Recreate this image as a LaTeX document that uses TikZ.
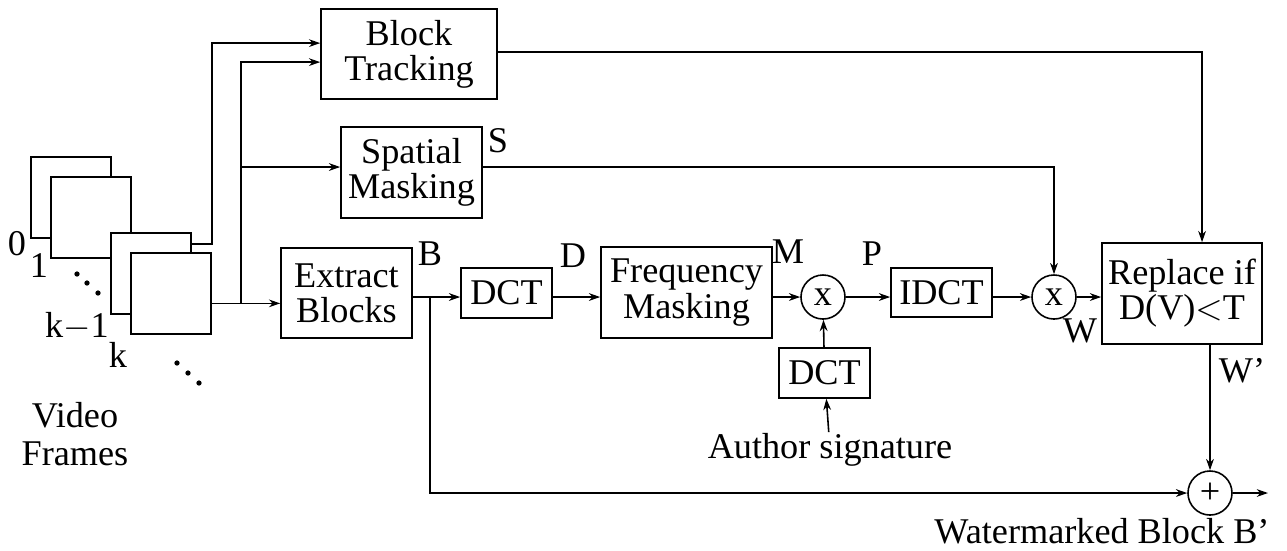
\documentclass[tikz,border=0pt]{standalone}
\usepackage{fontspec}
\setmainfont{Liberation Serif}
\usepackage{tikz}
\usetikzlibrary{arrows.meta}

\begin{document}
\begin{tikzpicture}[
        x=0.01cm, y=-0.01cm,
        >={Stealth[length=3.2pt,width=2.2pt]},
        line width=0.45pt,
        every node/.style={font=\fontsize{10.3}{10}\selectfont},
        blk/.style={draw, align=center, inner sep=0pt},
        frm/.style={draw, fill=white, minimum width=0.80cm, minimum height=0.81cm, inner sep=0pt},
        mult/.style={draw, circle, minimum size=0.44cm, inner sep=0pt},
        lab/.style={anchor=base, inner sep=0pt}
    ]

    \useasboundingbox (0,0) rectangle (1287,550);

    \node[frm] (f0) at (71,197.5) {};
    \node[frm] (f1) at (91,217.5) {};
    \node[frm] (fk1) at (151,273.5) {};
    \node[frm] (fk) at (171,293.5) {};

    \node[lab] (l0) at (17,255) {0};
    \node[lab] (l1) at (39,277) {1};
    \node[lab] (lk1) at (77,337) {k$-$1};
    \node[lab] (lk) at (118,367) {k};
    \node[lab] (vid) at (75,427) {Video};
    \node[lab] (frames) at (75,465) {Frames};

    \fill (77,274) circle[radius=0.75pt] (87,283) circle[radius=0.75pt] (98,293) circle[radius=0.75pt];
    \fill (177,363) circle[radius=0.75pt] (188,373) circle[radius=0.75pt] (199,383) circle[radius=0.75pt];

    \node[blk, minimum width=1.76cm, minimum height=0.90cm] (bt) at (409,54) {Block\\Tracking};
    \node[blk, minimum width=1.41cm, minimum height=0.91cm] (sm) at (411.5,172.5) {Spatial\\Masking};
    \node[blk, minimum width=1.31cm, minimum height=0.90cm] (ext) at (346.5,293) {Extract\\Blocks};
    \node[blk, minimum width=0.91cm, minimum height=0.50cm] (dct) at (506.5,293) {DCT};
    \node[blk, minimum width=1.71cm, minimum height=0.91cm] (fm) at (686.5,292.5) {Frequency\\Masking};
    \node[mult] (x1) at (823,297) {x};
    \node[blk, minimum width=0.91cm, minimum height=0.50cm] (dct2) at (824.5,373) {DCT};
    \node[lab] (auth) at (830,458) {Author signature};
    \node[blk, minimum width=1.01cm, minimum height=0.49cm] (idct) at (941.5,292.5) {IDCT};
    \node[mult] (x2) at (1054,297) {x};
    \node[blk, minimum width=1.60cm, minimum height=1.01cm] (rep) at (1182,293.5) {Replace if\\D(V)$<$T};
    \node[mult] (plus) at (1210,493) {+};
    \coordinate (out) at (1268,493);
    \node[lab] (wb) at (1102,543) {Watermarked Block B'};

    \node[lab] (lS) at (498,152) {S};
    \node[lab] (lB) at (430,265) {B};
    \node[lab] (lD) at (573,267) {D};
    \node[lab] (lM) at (788,263) {M};
    \node[lab] (lP) at (872,265) {P};
    \node[lab] (lW) at (1080,342) {W};
    \node[lab] (lW2) at (1242,382) {W'};

    \draw[->] ([yshift=8.4pt]fk1.east) -- ([yshift=8.4pt]fk1.east -| fk.east) |- ([yshift=3.1pt]bt.west);
    \draw[->] ([yshift=-2.8pt]fk.east) -- ([yshift=-2.8pt]fk.east -| ext.west);
    \coordinate (split) at (241,303);
    \draw[->] (split) |- ([yshift=-2.3pt]bt.west);
    \draw[->] (split |- 0,167) -- (sm.west |- 0,167);

    \coordinate (bsplit) at (430,297);
    \draw[->] (ext.east |- x1) -- (dct.west |- x1);
    \draw[->] (dct.east |- x1) -- (fm.west |- x1);
    \draw[->] (fm.east |- x1) -- (x1);
    \draw[->] (x1) -- (idct.west |- x1);
    \draw[->] (idct.east |- x2) -- (x2);
    \draw[->] (x2) -- (rep.west |- x2);
    \draw[->] (dct2) -- (x1);
    \draw[->] (auth) -- (dct2);

    \draw[->] (bt.east |- 0,52) -| ([xshift=5.7pt]rep.north);
    \draw[->] (sm.east |- 0,167) -| (x2);
    \draw[->] (rep.south -| plus) -- (plus);
    \draw[->] (bsplit) |- (plus);
    \draw[->] (plus) -- (out);

\end{tikzpicture}
\end{document}
